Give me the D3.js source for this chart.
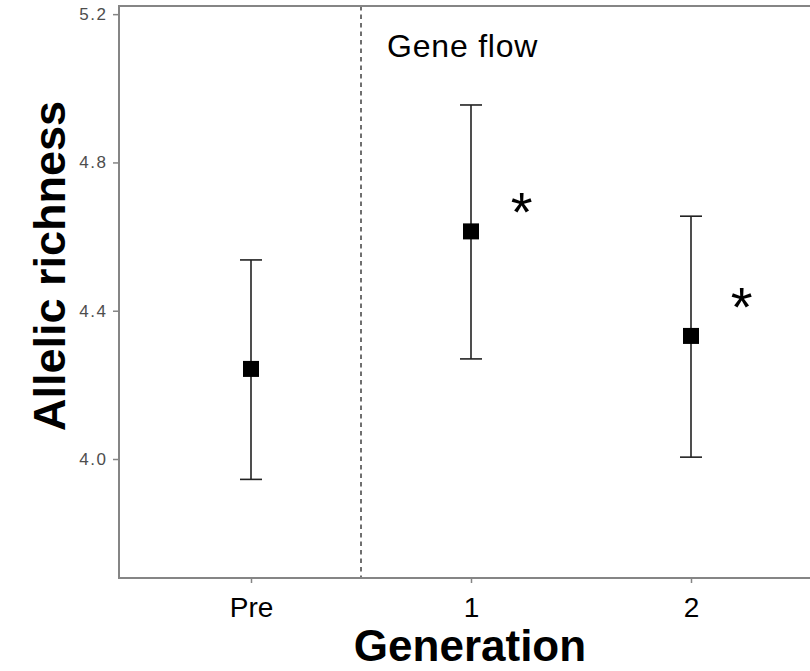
<!DOCTYPE html>
<html>
<head>
<meta charset="utf-8">
<script src="https://cdn.jsdelivr.net/npm/d3@7"></script>
<style>
  body { margin: 0; background: #fff; }
  svg { display: block; }
</style>
</head>
<body>
<svg id="chart" width="810" height="671"></svg>
<script>
// values
let groups = ['Pre', '1', '2']
let means = [4.243, 4.614, 4.332]
let lower = [3.945, 4.270, 4.005]
let upper = [4.537, 4.955, 4.655]
let stars = ['', '*', '*']
let starY = [null, 4.690, 4.434]
let yTicks = [4.0, 4.4, 4.8, 5.2]

let width = 810
let height = 671
let panelLeft = 119
let panelTop = 6
let panelBottom = 578

let svg = d3.select('#chart')

let x = d3.scalePoint()
  .domain(groups)
  .range([panelLeft, 823])
  .padding(0.6)

let y = d3.scaleLinear()
  .domain([3.679, 5.222])
  .range([panelBottom, panelTop])

let step = x.step()

let data = groups.map((g, i) => ({
  g, mean: means[i], lo: lower[i], hi: upper[i], star: stars[i], starY: starY[i]
}))

// dashed separator between Pre and the gene flow generations
let sepX = (x('Pre') + x('1')) / 2

svg.append('line')
  .attr('x1', sepX).attr('x2', sepX)
  .attr('y1', panelTop).attr('y2', panelBottom)
  .attr('stroke', '#333')
  .attr('stroke-width', 1.4)
  .attr('stroke-dasharray', '4.5,4')

// panel border (right side falls outside the picture)
svg.append('path')
  .attr('d', `M${width + 5},${panelTop}H${panelLeft}V${panelBottom}H${width + 5}`)
  .attr('fill', 'none')
  .attr('stroke', '#858585')
  .attr('stroke-width', 2)

// y axis
let yAxis = svg.append('g')
  .attr('transform', `translate(${panelLeft},0)`)
  .call(d3.axisLeft(y).tickValues(yTicks).tickFormat(d3.format('.1f')).tickSize(6).tickPadding(5.5))

yAxis.select('.domain').remove()
yAxis.selectAll('line').attr('stroke', '#858585').attr('stroke-width', 1.5)
yAxis.selectAll('text')
  .attr('fill', '#4d4d4d')
  .attr('font-family', 'Liberation Sans, Arial, sans-serif')
  .attr('font-size', 17)
  .attr('letter-spacing', 1.5)

// x axis
let xAxis = svg.append('g')
  .attr('transform', `translate(0,${panelBottom})`)
  .call(d3.axisBottom(x).tickSize(5))

xAxis.select('.domain').remove()
xAxis.selectAll('line').attr('stroke', '#858585').attr('stroke-width', 1.5)
xAxis.selectAll('text')
  .attr('y', 39)
  .attr('dy', 0)
  .attr('fill', '#000')
  .attr('font-family', 'Liberation Sans, Arial, sans-serif')
  .attr('font-size', 28)

// error bars
let bars = svg.append('g')
  .selectAll('g')
  .data(data)
  .enter()
  .append('g')

let capW = step * 0.1

bars.append('line')
  .attr('x1', d => x(d.g)).attr('x2', d => x(d.g))
  .attr('y1', d => y(d.hi)).attr('y2', d => y(d.lo))
  .attr('stroke', '#222').attr('stroke-width', 1.6)

bars.append('line')
  .attr('x1', d => x(d.g) - capW / 2).attr('x2', d => x(d.g) + capW / 2)
  .attr('y1', d => y(d.hi)).attr('y2', d => y(d.hi))
  .attr('stroke', '#222').attr('stroke-width', 1.6)

bars.append('line')
  .attr('x1', d => x(d.g) - capW / 2).attr('x2', d => x(d.g) + capW / 2)
  .attr('y1', d => y(d.lo)).attr('y2', d => y(d.lo))
  .attr('stroke', '#222').attr('stroke-width', 1.6)

bars.append('rect')
  .attr('x', d => x(d.g) - 8)
  .attr('y', d => y(d.mean) - 8)
  .attr('width', 16)
  .attr('height', 16)
  .attr('fill', '#000')

// significance stars
svg.append('g')
  .selectAll('text')
  .data(data.filter(d => d.star))
  .enter()
  .append('text')
  .attr('x', d => x(d.g) + step * 0.23)
  .attr('y', d => y(d.starY) + 28)
  .attr('text-anchor', 'middle')
  .attr('font-family', 'Liberation Sans, Arial, sans-serif')
  .attr('font-size', 56)
  .text(d => d.star)

svg.append('text')
  .attr('x', sepX + 26)
  .attr('y', y(5.084))
  .attr('font-family', 'Liberation Sans, Arial, sans-serif')
  .attr('font-size', 32)
  .attr('letter-spacing', 0.8)
  .text('Gene flow')

// axis titles
svg.append('text')
  .attr('transform', 'translate(64.5,266) rotate(-90)')
  .attr('text-anchor', 'middle')
  .attr('font-family', 'Liberation Sans, Arial, sans-serif')
  .attr('font-weight', 'bold')
  .attr('font-size', 45)
  .text('Allelic richness')

svg.append('text')
  .attr('x', 470)
  .attr('y', 661)
  .attr('text-anchor', 'middle')
  .attr('font-family', 'Liberation Sans, Arial, sans-serif')
  .attr('font-weight', 'bold')
  .attr('font-size', 44)
  .text('Generation')
</script>
</body>
</html>
